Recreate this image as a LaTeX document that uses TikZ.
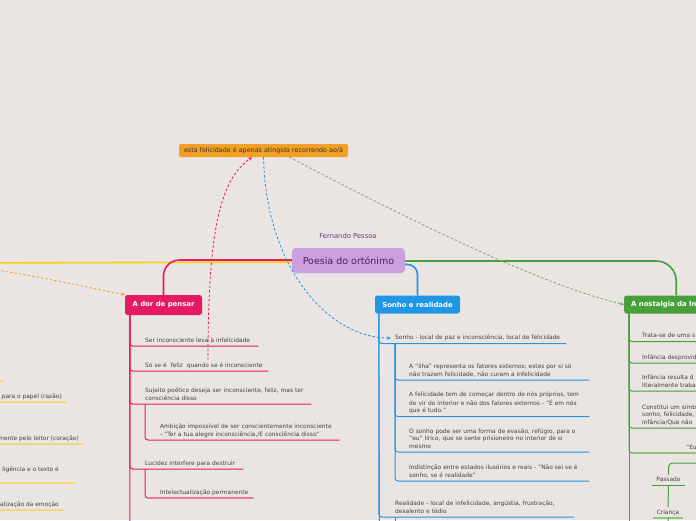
\documentclass[tikz,border=0pt]{standalone}
\usepackage{fontspec}
\setmainfont{DejaVu Sans}
\usetikzlibrary{arrows.meta}
\definecolor{paper}{RGB}{234,228,226}
\definecolor{leaftext}{RGB}{70,64,64}
\definecolor{rootfill}{RGB}{201,160,221}
\definecolor{roottext}{RGB}{80,28,110}
\definecolor{orangebox}{RGB}{243,161,38}
\definecolor{dorpink}{RGB}{228,27,98}
\definecolor{dorlight}{RGB}{236,118,160}
\definecolor{sonblue}{RGB}{33,150,229}
\definecolor{nosgreen}{RGB}{72,160,60}
\definecolor{noslight}{RGB}{140,196,122}
\definecolor{yelline}{RGB}{250,208,20}
\definecolor{yelorange}{RGB}{240,160,50}
\newcommand{\leaffont}{\fontsize{5.9}{7.5}\selectfont}
\tikzset{
  root/.style={
    fill=rootfill, text=roottext, rounded corners=4pt,
    minimum width=113pt, minimum height=25pt, inner sep=0pt,
    font=\fontsize{9.5}{11}\selectfont
  },
  author/.style={text=roottext!85, font=\fontsize{6.8}{8}\selectfont, inner sep=0pt},
  floatbox/.style={
    fill=orangebox, text=black!80, rounded corners=2pt,
    minimum width=169pt, minimum height=13pt, inner sep=0pt,
    font=\fontsize{6.4}{7.5}\selectfont
  },
  topic/.style={
    rounded corners=2.5pt, text=white, inner sep=0pt,
    font=\fontsize{6.9}{8}\selectfont\bfseries
  },
  leaf/.style={
    anchor=south west, inner xsep=0pt, inner ysep=1.5pt,
    align=left, text width=#1, text=leaftext, font=\leaffont,
    execute at begin node=\strut, execute at end node=\strut
  },
  yleaf/.style={
    anchor=south east, inner xsep=4pt, inner ysep=1.5pt,
    align=right, text=leaftext, font=\leaffont,
    execute at begin node=\strut, execute at end node=\strut
  },
  gtag/.style={
    anchor=south, minimum width=32pt, inner xsep=0pt, inner ysep=1.5pt,
    text=leaftext, font=\leaffont,
    execute at begin node=\strut, execute at end node=\strut
  },
  stem/.style={line width=1.6pt},
  twig/.style={line width=1pt, rounded corners=3pt},
  lasttwig/.style={line width=1.8pt},
  link/.style={
    line width=0.8pt, dash pattern=on 2.5pt off 2pt,
    -{Stealth[length=4pt,width=3.6pt]}
  }
}

\begin{document}
\begin{tikzpicture}[x=1pt,y=-1pt]
  \useasboundingbox (0,0) rectangle (696,520);
  \fill[paper] (0,0) rectangle (696,520);
  \clip (0,0) rectangle (696,520);
  %
  % ==================================================================
  % Centre of the map and the floating note above it
  % ==================================================================
  \node[root] (root) at (348.5,260.5) {Poesia do ortónimo};
  \node[author] (author) at (348,236) {Fernando Pessoa};
  \node[floatbox] (felic) at (263.5,150.5)
    {esta felicidade é apenas atingida recorrendo ao/à};
  %
  % main topics (the yellow one lies off the left edge)
  \node[topic, fill=dorpink, minimum width=77pt, minimum height=20pt]
    (dor) at (163.5,305) {A dor de pensar};
  \node[topic, fill=sonblue, minimum width=85pt, minimum height=18pt]
    (sonho) at (417.5,304.5) {Sonho e realidade};
  \node[topic, fill=nosgreen, minimum height=18pt, text width=90pt,
        inner xsep=7pt, anchor=west, align=left]
    (nost) at (624,304.5) {A nostalgia da Infância};
  \coordinate (ytopic) at (-40,263);
  \coordinate (ysrc) at (-30,266);
  %
  % stems from the centre
  \draw[stem, draw=yelline] ([yshift=-1.5pt]root.west) -- (ytopic);
  \draw[stem, draw=dorpink, rounded corners=16pt] ([yshift=0.5pt]root.west) -| (dor.north);
  \draw[stem, draw=sonblue, rounded corners=10pt] ([yshift=-4pt]root.east) -| (sonho.north);
  \draw[stem, draw=nosgreen, rounded corners=20pt] ([yshift=-0.5pt]root.east) -| (nost.north);
  %
  % ==================================================================
  % Branch 1: A dor de pensar
  % ==================================================================
  \coordinate (dorspine) at ([xshift=5pt]dor.south west);
  \coordinate (dorend) at (130,530);
  \draw[twig, draw=dorpink] (dorspine) -- (dorend);
  \node[leaf=113pt] (ser) at (145,346) {Ser inconsciente leva à infelicidade};
  \node[leaf=123pt] (feliz) at (145,371) {Só se é\ \ feliz\ \ quando se é inconsciente};
  \node[leaf=166pt] (sujeito) at (145,404)
    {Sujeito poético deseja ser inconsciente, feliz, mas ter\\consciência disso};
  \node[leaf=179pt] (ambicao) at (160,440)
    {Ambição impossível de ser conscientemente inconsciente\\- "Ter a tua alegre inconsciência,/E consciência disso"};
  \node[leaf=98pt] (lucidez) at (145,469) {Lucidez interfere para destruir};
  \node[leaf=93pt] (intelect) at (160,498) {Intelectualização permanente};
  \draw[twig, draw=dorpink] (dorspine) |- (ser.south east);
  \draw[twig, draw=dorpink] (dorspine) |- (feliz.south east);
  \draw[twig, draw=dorpink] (dorspine) |- (sujeito.south east);
  \draw[twig, draw=dorpink] (sujeito.south west) |- (ambicao.south east);
  \draw[twig, draw=dorpink] (dorspine) |- (lucidez.south east);
  \draw[twig, draw=dorpink] (lucidez.south west) |- (intelect.south east);
  \draw[lasttwig, draw=dorlight] ([xshift=-10pt]intelect.south west) -- (intelect.south east);
  %
  % ==================================================================
  % Branch 2: Sonho e realidade
  % ==================================================================
  \coordinate (sonspine) at ([xshift=4pt]sonho.south west);
  \coordinate (sonend) at (379.5,530);
  \draw[twig, draw=sonblue] (sonspine) -- (sonend);
  \node[leaf=171pt] (sonholocal) at (395,343.5)
    {Sonho - local de paz e inconsciência, local de felicidade};
  \node[leaf=180pt] (ilha) at (409,380)
    {A "ilha" representa os fatores externos; estes por si só\\não trazem felicidade, não curam a infelicidade};
  \node[leaf=180pt] (dentro) at (409,416.5)
    {A felicidade tem de começar dentro de nós próprios, tem\\de vir do interior e não dos fatores externos - "É em nós\\que é tudo."};
  \node[leaf=180pt] (evasao) at (409,452)
    {O sonho pode ser uma forma de evasão, refúgio, para o\\"eu" lírico, que se sente prisioneiro no interior de si\\mesmo};
  \node[leaf=180pt] (indist) at (409,481)
    {Indistinção entre estados ilusórios e reais - "Não sei se é\\sonho, se é realidade"};
  \node[leaf=179pt] (realid) at (395,517)
    {Realidade - local de infelicidade, angústia, frustração,\\desalento e tédio};
  \coordinate (realend) at (395,535);
  \draw[twig, draw=sonblue] (sonspine) |- (sonholocal.south east);
  \draw[twig, draw=sonblue] (sonholocal.south west) |- (ilha.south east);
  \draw[twig, draw=sonblue] (sonholocal.south west) |- (dentro.south east);
  \draw[twig, draw=sonblue] (sonholocal.south west) |- (evasao.south east);
  \draw[twig, draw=sonblue] (sonholocal.south west) |- (indist.south east);
  \draw[twig, draw=sonblue] (sonspine) |- (realid.south east);
  \draw[twig, draw=sonblue] (realid.south west) -- (realend);
  %
  % ==================================================================
  % Branch 3: A nostalgia da Infância (cut by the right edge)
  % ==================================================================
  \coordinate (nosspine) at ([xshift=5pt]nost.south west);
  \coordinate (nosend) at (629,530);
  \draw[twig, draw=nosgreen] (nosspine) -- (nosend);
  \node[leaf=78pt] (trata) at (642,341.5) {Trata-se de uma s};
  \node[leaf=78pt] (desprov) at (642,363) {Infância desprovid};
  \node[leaf=78pt] (resulta) at (642,391) {Infância resulta d\\literalmente traba};
  \node[leaf=78pt] (simbolo) at (642,428) {Constitui um símb\\sonho, felicidade,\\infância/Que não};
  \node[leaf=40pt] (eu) at (686,453) {"Eu};
  \draw[twig, draw=nosgreen] (nosspine) |- (trata.south east);
  \draw[twig, draw=nosgreen] (nosspine) |- (desprov.south east);
  \draw[twig, draw=nosgreen] (nosspine) |- (resulta.south east);
  \draw[twig, draw=nosgreen] (nosspine) |- (simbolo.south east);
  \draw[twig, draw=nosgreen] (nosspine) |- (eu.south east);
  \draw[lasttwig, draw=noslight] ([xshift=-54pt]eu.south west) -- (eu.south east);
  % sub-tree coming in from the right
  \coordinate (eutree) at (720,463);
  \node[gtag] (passado) at (668.5,485.5) {Passado};
  \node[gtag, minimum width=30pt] (crianca) at (668,518) {Criança};
  \coordinate (criancaend) at (668.5,535);
  \draw[twig, draw=nosgreen, rounded corners=4pt] (eutree) -| (passado.north);
  \draw[twig, draw=nosgreen] (passado.south west) -- (passado.south east);
  \draw[twig, draw=nosgreen] (passado.south) -- (crianca.north);
  \draw[lasttwig, draw=noslight] (crianca.south west) -- (crianca.south east);
  \draw[twig, draw=nosgreen] (crianca.south) -- (criancaend);
  %
  % ==================================================================
  % Branch 4: yellow topic (only its right ends show)
  % ==================================================================
  \coordinate (yspine) at (-40,330);
  \coordinate (ystub) at (3,381);
  \node[yleaf] (razao) at (66,402) {para o papel (razão)};
  \node[yleaf] (coracao) at (83,444) {mente pelo leitor (coração)};
  \node[yleaf, inner xsep=16pt] (texto) at (75,483) {ligência e o texto é\\};
  \node[yleaf, inner xsep=5pt] (emocao) at (64,510) {alização da emoção};
  \draw[twig, draw=yelline] (yspine) |- (ystub);
  \draw[twig, draw=yelline] (yspine) |- (razao.south east);
  \draw[twig, draw=yelline] (yspine) |- (coracao.south east);
  \draw[twig, draw=yelline] (yspine) |- (texto.south east);
  \draw[twig, draw=yelline] (yspine) |- (emocao.south east);
  %
  % ==================================================================
  % Dashed relations
  % ==================================================================
  \draw[link, draw=yelorange] (ysrc) .. controls (40,276) and (90,288) .. (dor.north west);
  \draw[link, draw=dorpink] ([xshift=63pt]feliz.north west)
    .. controls (208,230) and (220,180) .. ([xshift=-11.5pt]felic.south);
  \draw[link, draw=sonblue] (felic.south)
    .. controls (266,270) and (330,338) .. ([xshift=-4pt]sonholocal.west);
  \draw[link, draw=nosgreen!80] ([xshift=26pt]felic.south)
    .. controls (400,215) and (540,285) .. (nost.west);
\end{tikzpicture}
\end{document}
